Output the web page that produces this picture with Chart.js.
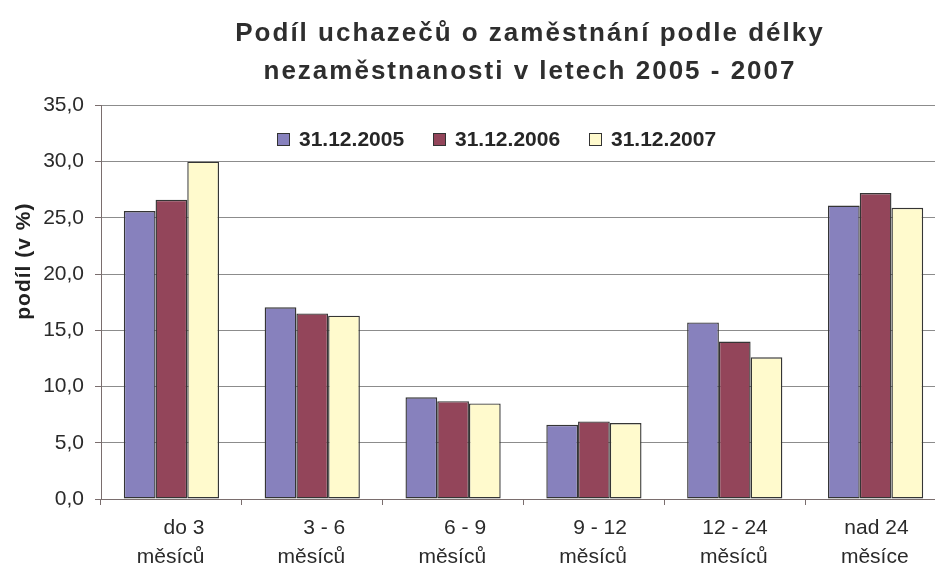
<!DOCTYPE html>
<html><head><meta charset="utf-8">
<script src="https://cdn.jsdelivr.net/npm/chart.js@4.4.0/dist/chart.umd.min.js"></script>
<style>
html,body{margin:0;padding:0;overflow:hidden;background:#fff;}
#wrap{position:absolute;left:0;top:0;width:1060px;height:568px;}
#legend{position:absolute;left:0;top:0;width:0;height:0;}
.li{position:absolute;top:127px;height:24px;display:flex;align-items:center;font:bold 21px "Liberation Sans",Arial,sans-serif;color:#262626;white-space:nowrap;}
.sw{width:11px;height:11px;border:1px solid #333;margin-right:9px;box-sizing:content-box;}
</style></head><body>
<div id="wrap"><canvas id="c" width="1060" height="568"></canvas><div id="legend"></div></div>
<script>
// ---- data ----
const categories = [["do 3","měsíců"],["3 - 6","měsíců"],["6 - 9","měsíců"],["9 - 12","měsíců"],["12 - 24","měsíců"],["nad 24","měsíce"]];
const seriesNames = ["31.12.2005","31.12.2006","31.12.2007"];
const values2005 = [25.6, 17.05, 9.05, 6.6, 15.7, 26.1];
const values2006 = [26.6, 16.5, 8.7, 6.9, 14.0, 27.2];
const values2007 = [30.0, 16.3, 8.5, 6.75, 12.6, 25.9];
const yTickValues = [0, 5, 10, 15, 20, 25, 30, 35];
const titleLines = ["Podíl uchazečů o zaměstnání podle délky", "nezaměstnanosti v letech 2005 - 2007"];
const yAxisTitle = "podíl (v %)";

const seriesColors = ["#8781bd", "#93455a", "#fffacd"];
const legendLefts = [277, 433, 589];

const FONT = '"Liberation Sans", Arial, sans-serif';
const axisColor = '#7a6e6e';

const ctx = document.getElementById('c').getContext('2d');
const chart = new Chart(ctx, {
  type: 'bar',
  data: {
    labels: categories,
    datasets: [values2005, values2006, values2007].map((v, i) => ({
      label: seriesNames[i],
      data: v,
      backgroundColor: seriesColors[i],
      borderColor: '#353535',
      borderWidth: 1.4,
      borderSkipped: false,
      categoryPercentage: 0.676,
      barPercentage: 1.0,
      yAxisID: 'y'
    }))
  },
  options: {
    responsive: false,
    devicePixelRatio: 1,
    animation: false,
    layout: { padding: 0 },
    plugins: {
      legend: { display: false },
      tooltip: { enabled: false },
      title: {
        display: true,
        text: titleLines,
        color: '#2e2e2e',
        font: { family: FONT, size: 26, weight: 'bold', lineHeight: 1.45 },
        padding: { top: 15, bottom: 15 }
      }
    },
    scales: {
      x: {
        afterFit: s => { s.height = 69; },
        grid: { display: true, drawOnChartArea: false, drawTicks: true, tickLength: 6, color: axisColor, offset: true },
        border: { display: true, color: axisColor, width: 1 },
        ticks: {
          color: '#2a2a2a',
          font: { family: FONT, size: 21, lineHeight: 1.38 },
          padding: 9,
          align: 'end',
          labelOffset: 33,
          maxRotation: 0,
          autoSkip: false
        }
      },
      y: {
        position: 'left',
        min: 0, max: 35,
        afterBuildTicks: s => { s.ticks = yTickValues.map(v => ({ value: v })); },
        afterFit: s => { s.width = 101; },
        grid: { color: '#8c8c8c', tickColor: axisColor, tickLength: 6, lineWidth: 1 },
        border: { display: true, color: axisColor, width: 1 },
        ticks: {
          color: '#2a2a2a',
          font: { family: FONT, size: 21 },
          padding: 11,
          callback: v => v.toFixed(1).replace('.', ',')
        },
        title: {
          display: true,
          text: yAxisTitle,
          color: '#222',
          font: { family: FONT, size: 21, weight: 'bold', lineHeight: 1.2 },
          padding: { top: 12, bottom: 0 }
        }
      },
      yRight: {
        type: 'linear',
        position: 'right',
        display: true,
        afterFit: s => { s.width = 114; },
        grid: { display: false },
        border: { display: false },
        ticks: { display: false }
      }
    }
  }
});

// title letter spacing
const tb = chart.titleBlock;
const origTitleDraw = tb.draw.bind(tb);
tb.draw = function () {
  const c = chart.ctx; c.save(); c.letterSpacing = '2px'; origTitleDraw(); c.restore();
};
// y-axis title: shift up and slight spacing
const ys = chart.scales.y;
const origYTitle = ys.drawTitle.bind(ys);
ys.drawTitle = function () {
  const c = chart.ctx; c.save(); c.translate(0, -41); c.letterSpacing = '1px'; origYTitle(); c.restore();
};
chart.draw();

// HTML legend built from chart datasets
const leg = document.getElementById('legend');
chart.data.datasets.forEach((ds, i) => {
  const item = document.createElement('div');
  item.className = 'li';
  item.style.left = legendLefts[i] + 'px';
  const sw = document.createElement('span');
  sw.className = 'sw';
  sw.style.background = ds.backgroundColor;
  const t = document.createElement('span');
  t.textContent = ds.label;
  item.appendChild(sw); item.appendChild(t);
  leg.appendChild(item);
});
</script>
</body></html>
